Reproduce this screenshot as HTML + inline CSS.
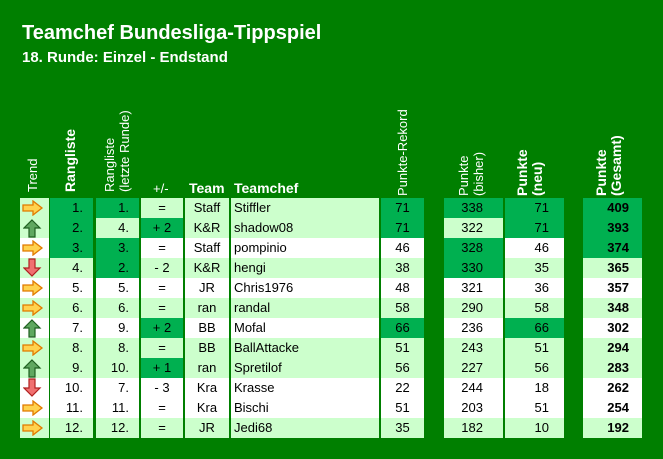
<!DOCTYPE html>
<html><head><meta charset="utf-8"><style>
body{margin:0;width:663px;height:459px;background:#007f00;position:relative;overflow:hidden;font-family:"Liberation Sans",sans-serif}
.t{position:absolute;color:#fff;font-weight:bold}
.c{position:absolute;height:20px;line-height:20px;font-size:13px;color:#000;box-sizing:border-box;white-space:nowrap}
.h{position:absolute;color:#fff;font-size:13px;transform-origin:0 0;transform:rotate(-90deg);white-space:nowrap;line-height:15px}
</style></head><body>
<div class="t" style="left:22px;top:22px;font-size:20px">Teamchef Bundesliga-Tippspiel</div>
<div class="t" style="left:22px;top:49px;font-size:15px">18. Runde: Einzel - Endstand</div>
<div class="h" style="left:25px;top:192px">Trend</div>
<div class="h" style="left:63px;top:192px;font-weight:bold;font-size:14px">Rangliste</div>
<div class="h" style="left:102px;top:192px">Rangliste<br>(letzte Runde)</div>
<div class="t" style="left:153px;top:181px;font-size:13px;font-weight:normal">+/-</div>
<div class="t" style="left:189px;top:180px;font-size:14px">Team</div>
<div class="t" style="left:234px;top:180px;font-size:14px">Teamchef</div>
<div class="h" style="left:395px;top:196px">Punkte-Rekord</div>
<div class="h" style="left:456px;top:196px">Punkte<br>(bisher)</div>
<div class="h" style="left:515px;top:196px;font-weight:bold;font-size:14px">Punkte<br>(neu)</div>
<div class="h" style="left:594px;top:196px;font-weight:bold;font-size:14px">Punkte<br>(Gesamt)</div>
<div id="tbl"></div>
<script>
const trend=['r','u','r','d','r','r','u','r','u','d','r','r'];
const rank=['1.','2.','3.','4.','5.','6.','7.','8.','9.','10.','11.','12.'];
const last=['1.','4.','3.','2.','5.','6.','9.','8.','10.','7.','11.','12.'];
const pm=['=','+ 2','=','- 2','=','=','+ 2','=','+ 1','- 3','=','='];
const team=['Staff','K&R','Staff','K&R','JR','ran','BB','BB','ran','Kra','Kra','JR'];
const chef=['Stiffler','shadow08','pompinio','hengi','Chris1976','randal','Mofal','BallAttacke','Spretilof','Krasse','Bischi','Jedi68'];
const rekord=[71,71,46,38,48,58,66,51,56,22,51,35];
const bisher=[338,322,328,330,321,290,236,243,227,244,203,182];
const neu=[71,71,46,35,36,58,66,51,56,18,51,10];
const gesamt=[409,393,374,365,357,348,302,294,283,262,254,192];
const light=[1,1,0,1,0,1,0,1,1,0,0,1];
const dark={rank:[0,1,2],last:[0,2,3],pm:[1,6,8],rekord:[0,1,6],bisher:[0,2,3],neu:[0,1,6],gesamt:[0,1,2]};
const cols=[
 ['trend',20,29,'left',0],['rank',50,43,'right',10],['last',96,43,'right',10],['pm',141,42,'center',0],
 ['team',185,44,'center',0],['chef',231,148,'left',3],['rekord',381,43,'center',0],
 ['bisher',444,59,'right',20],['neu',505,59,'right',15],['gesamt',583,59,'right',13]];
const data={rank,last,pm,team,chef,rekord,bisher,neu,gesamt};
const tbl=document.getElementById('tbl');
function arrow(t){
 if(t==='r')return '<svg width="22" height="16" style="margin:2px 0 0 2px"><polygon points="1,5 11,5 11,1 20,8 11,15 11,11 1,11" fill="#ffd24d" stroke="#e07a00" stroke-width="1.3"/></svg>';
 if(t==='u')return '<svg width="22" height="19" style="margin:1px 0 0 3px"><polygon points="9,1 17,9 12,9 12,18 6,18 6,9 1,9" fill="#5fa860" stroke="#1f5f20" stroke-width="1.2"/></svg>';
 return '<svg width="22" height="19" style="margin:0 0 0 3px"><polygon points="6,1 12,1 12,10 17,10 9,18 1,10 6,10" fill="#f07070" stroke="#b02020" stroke-width="1.2"/></svg>';
}
for(let i=0;i<12;i++){
 const y=198+20*i;
 for(const [k,x,w,al,pad] of cols){
  const d=document.createElement('div');
  
  
  d.className='c';
  let bg=light[i]?'#ccffcc':'#ffffff';
  if(dark[k]&&dark[k].includes(i))bg='#00b050';
  d.style.cssText+=`left:${x}px;top:${y}px;width:${w}px;background:${bg};text-align:${al};padding-${al==='right'?'right':'left'}:${pad}px;`;
  if(k==='gesamt')d.style.fontWeight='bold';
  if(k==='trend')d.innerHTML=arrow(trend[i]);
  else d.textContent=data[k][i];
  tbl.appendChild(d);
 }
}
</script>
</body></html>
